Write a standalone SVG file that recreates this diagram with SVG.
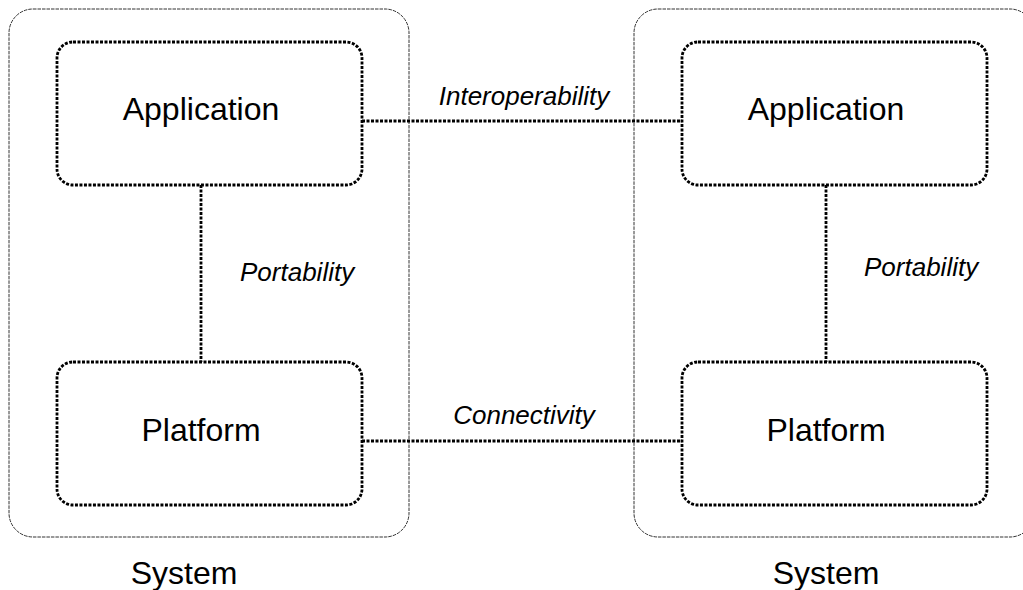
<svg xmlns="http://www.w3.org/2000/svg" width="1023" height="590" viewBox="0 0 1023 590">
  <style>
    .system { fill: none; stroke: #333; stroke-width: 1; stroke-dasharray: 3.5 1; }
    .box { fill: #fff; stroke: #000; stroke-width: 2.8; stroke-dasharray: 3 1.5; }
    .link { fill: none; stroke: #000; stroke-width: 2.8; stroke-dasharray: 3 1.5; }
    .name { font-family: "Liberation Sans", Arial, sans-serif; font-size: 32px; fill: #000; text-anchor: middle; }
    .label { font-family: "Liberation Sans", Arial, sans-serif; font-size: 26px; font-style: italic; fill: #000; }
  </style>
  <rect width="1023" height="590" fill="#fff"/>

  <!-- system boundaries -->
  <g id="system-left">
    <rect class="system" x="9" y="9" width="400" height="528" rx="24" ry="24"/>
    <text class="name" x="184" y="584">System</text>
  </g>
  <g id="system-right">
    <rect class="system" x="634" y="9" width="400" height="528" rx="24" ry="24"/>
    <text class="name" x="826" y="584">System</text>
  </g>

  <!-- connectors -->
  <g id="connectors">
    <line class="link" x1="362" y1="121" x2="682" y2="121"/>
    <line class="link" x1="362" y1="441" x2="682" y2="441"/>
    <line class="link" x1="201" y1="185" x2="201" y2="362"/>
    <line class="link" x1="826" y1="185" x2="826" y2="362"/>
    <text class="label" x="524" y="105" text-anchor="middle">Interoperability</text>
    <text class="label" x="524" y="424" text-anchor="middle">Connectivity</text>
    <text class="label" x="240" y="281">Portability</text>
    <text class="label" x="864" y="276">Portability</text>
  </g>

  <!-- nodes -->
  <g id="app-left">
    <rect class="box" x="57" y="42" width="305" height="143" rx="16" ry="16"/>
    <text class="name" x="201" y="120">Application</text>
  </g>
  <g id="platform-left">
    <rect class="box" x="57" y="362" width="305" height="143" rx="16" ry="16"/>
    <text class="name" x="201" y="441">Platform</text>
  </g>
  <g id="app-right">
    <rect class="box" x="682" y="42" width="305" height="143" rx="16" ry="16"/>
    <text class="name" x="826" y="120">Application</text>
  </g>
  <g id="platform-right">
    <rect class="box" x="682" y="362" width="305" height="143" rx="16" ry="16"/>
    <text class="name" x="826" y="441">Platform</text>
  </g>
</svg>
